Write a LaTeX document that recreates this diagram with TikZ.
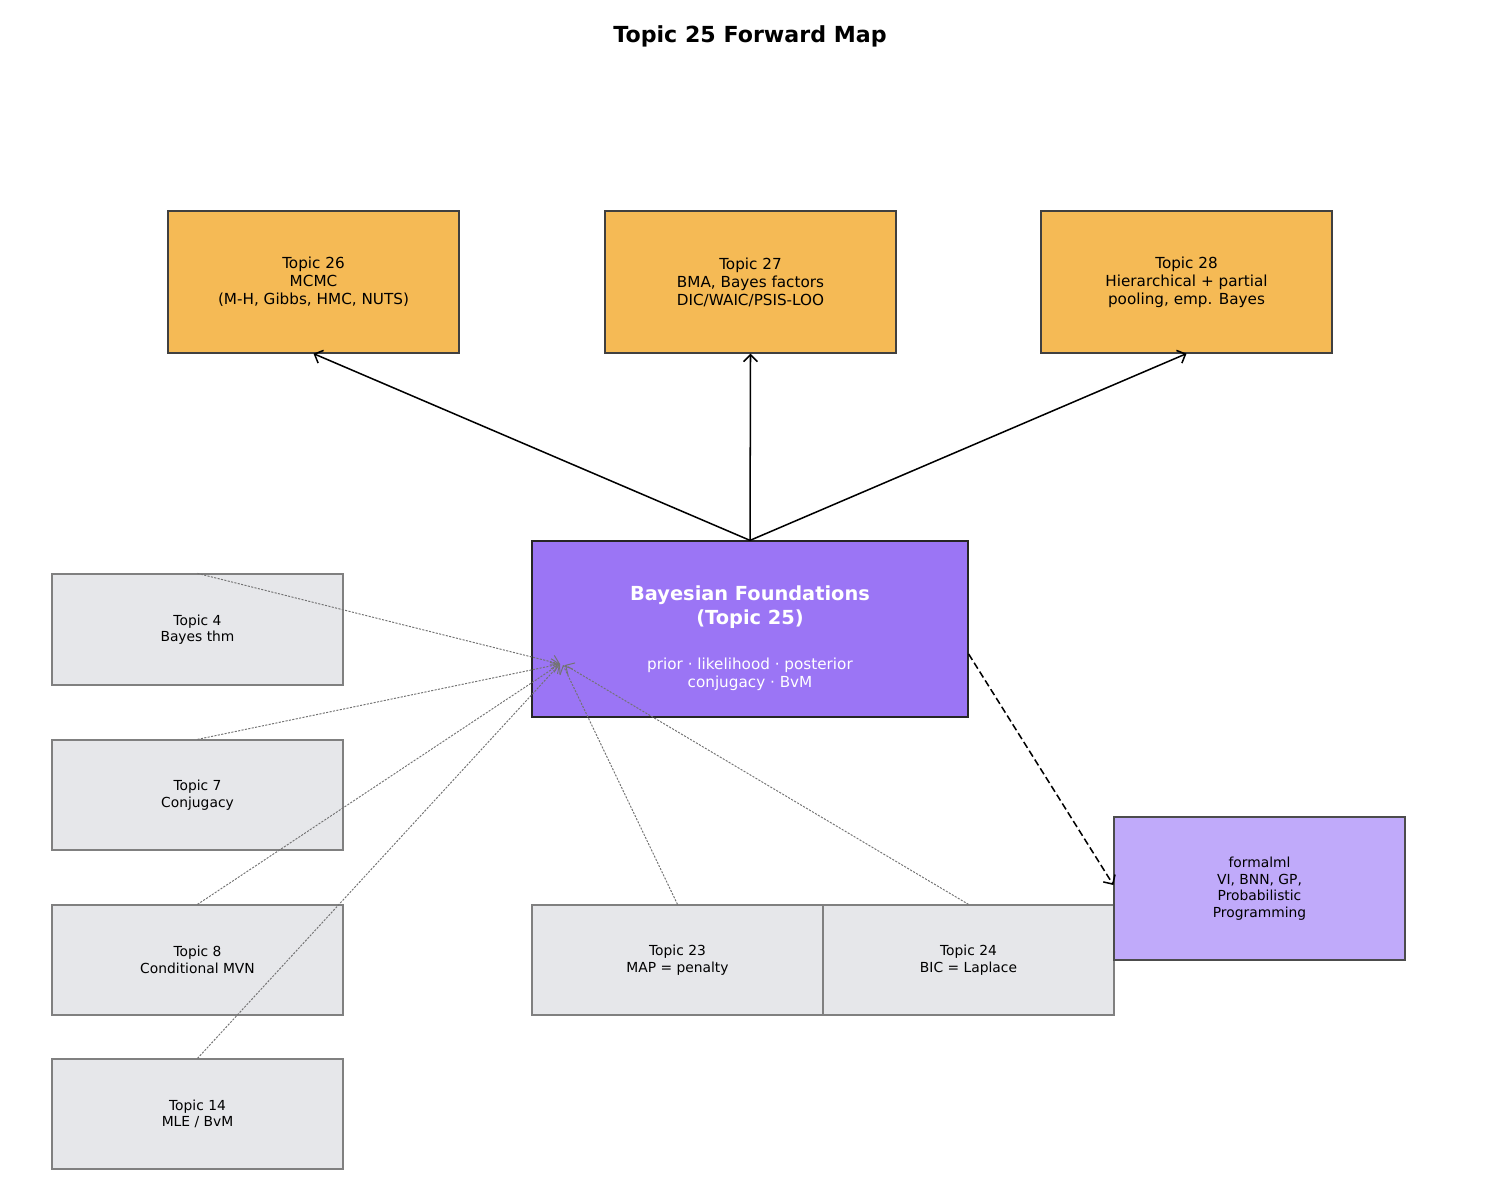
\documentclass[tikz,border=0pt]{standalone}
\usepackage{fontspec}
\setmainfont{DejaVu Sans}
\usetikzlibrary{arrows.meta, positioning}
\definecolor{orangebox}{HTML}{F5BA55}
\definecolor{hubpurple}{HTML}{9B75F5}
\definecolor{outpurple}{HTML}{C0AAFA}
\definecolor{prevgray}{HTML}{E6E7EA}
\tikzset{
    nextbox/.style={rectangle, draw=black!75, fill=orangebox, minimum width=291\pxu, minimum height=142\pxu, align=center, font=\fontsize{11}{13}\selectfont, line width=0.9pt},
    prevbox/.style={rectangle, draw=black!50, fill=prevgray, minimum width=291\pxu, minimum height=110\pxu, align=center, font=\fontsize{10}{12}\selectfont, line width=0.9pt},
    hubbox/.style={rectangle, draw=black!85, fill=hubpurple, minimum width=436\pxu, minimum height=176\pxu, align=center, text=white, line width=0.9pt},
    outbox/.style={rectangle, draw=black!70, fill=outpurple, minimum width=291\pxu, minimum height=143\pxu, align=center, font=\fontsize{10}{12}\selectfont, line width=0.9pt},
    arrow/.style={-{Straight Barb[length=5pt]}, line width=1.1pt},
    dashedarrow/.style={-{Straight Barb[length=5pt]}, line width=1.1pt, dash pattern=on 5pt off 2.5pt},
    dottedarrow/.style={-{Straight Barb[length=5pt]}, black!55, line width=0.7pt, dash pattern=on 1.5pt off 1pt},
}
\newlength{\pxu}\setlength{\pxu}{0.7227pt}
\begin{document}
\begin{tikzpicture}[x=0.7227pt, y=-0.7227pt]
    \useasboundingbox (0,0) rectangle (1500,1203);
    \node[font=\fontsize{16}{19}\selectfont\bfseries] (title) at (750,36) {Topic 25 Forward Map};

    % next topics
    \node[nextbox] (t26) at (313.5,282) {Topic 26\\MCMC\\(M-H, Gibbs, HMC, NUTS)};
    \node[nextbox] (t27) at (750.5,282) {Topic 27\\BMA, Bayes factors\\DIC/WAIC/PSIS-LOO};
    \node[nextbox] (t28) at (1186.5,282) {Topic 28\\Hierarchical + partial\\pooling, emp. Bayes};

    % hub
    \node[hubbox] (hub) at (750,629) {};
    \node[text=white, align=center, font=\fontsize{14}{17}\selectfont\bfseries] (hubtitle) at (750,607) {Bayesian Foundations\\(Topic 25)};
    \node[text=white, align=center, font=\fontsize{11}{13}\selectfont] (hubsub) at (750,674) {prior · likelihood · posterior\\conjugacy · BvM};
    \coordinate (hubin) at (560,664);

    % prerequisites
    \node[prevbox, minimum height=111\pxu] (t4) at (197.5,629.5) {Topic 4\\Bayes thm};
    \node[prevbox] (t7) at (197.5,795) {Topic 7\\Conjugacy};
    \node[prevbox] (t8) at (197.5,960) {Topic 8\\Conditional MVN};
    \node[prevbox] (t14) at (197.5,1114) {Topic 14\\MLE / BvM};
    \node[prevbox] (t23) at (677.5,960) {Topic 23\\MAP = penalty};
    \node[prevbox] (t24) at (968.5,960) {Topic 24\\BIC = Laplace};

    % downstream
    \node[outbox] (fml) at (1259.5,888.5) {formalml\\VI, BNN, GP,\\Probabilistic\\Programming};

    \draw[arrow] (hub.north) -- (t26.south);
    \draw[arrow] (hub.north) -- (t27.south);
    \draw[arrow] (hub.north) -- (t28.south);
    \draw[dashedarrow] (hub.east |- 0,654) -- (fml.west |- 0,885);

    \foreach \src in {t4,t7,t8,t14}
        \draw[dottedarrow] (\src.north) -- (hubin);
    \draw[dottedarrow] (t23.north) -- (563,665);
    \draw[dottedarrow] (t24.north) -- (565,665);
\end{tikzpicture}
\end{document}
